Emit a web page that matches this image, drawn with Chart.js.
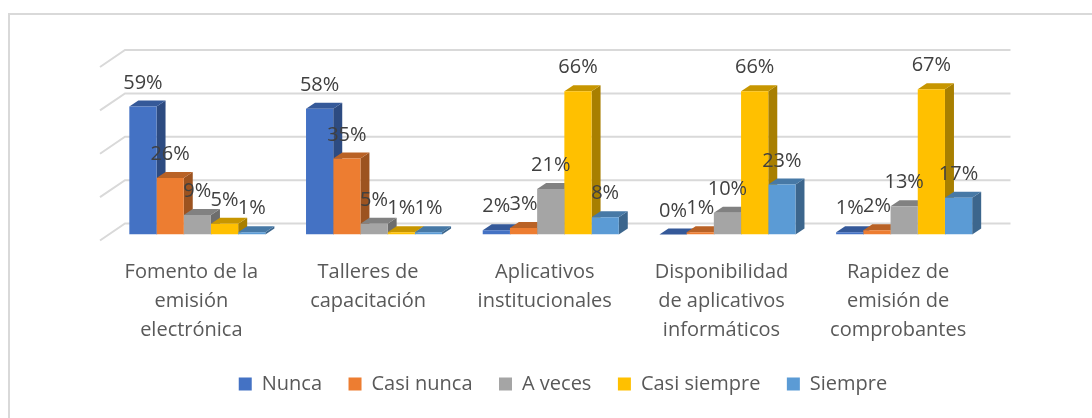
<!DOCTYPE html>
<html lang="es">
<head>
    <meta charset="UTF-8">
    <title>Uso de la facturación electrónica</title>
    <script src="https://cdn.jsdelivr.net/npm/chart.js"></script>
    <style>
        body { margin: 0; background: #fff; }
        #wrap { width: 1092px; height: 418px; }
    </style>
</head>
<body>
    <div id="wrap"><canvas id="grafico" width="1092" height="418"></canvas></div>

    <script>
        // Datos (porcentajes)
        const categorias = [
            ['Fomento de la', 'emisión', 'electrónica'],
            ['Talleres de', 'capacitación'],
            ['Aplicativos', 'institucionales'],
            ['Disponibilidad', 'de aplicativos', 'informáticos'],
            ['Rapidez de', 'emisión de', 'comprobantes']
        ];
        const nunca = [59, 58, 2, 0, 1];
        const casiNunca = [26, 35, 3, 1, 2];
        const aVeces = [9, 5, 21, 10, 13];
        const casiSiempre = [5, 1, 66, 66, 67];
        const siempre = [1, 1, 8, 23, 17];
        const ejeY = [0, 20, 40, 60, 80];

        const colores = ['#4472C4', '#ED7D31', '#A5A5A5', '#FFC000', '#5B9BD5'];
        const fuente = "'Open Sans', sans-serif";
        Chart.defaults.font.family = fuente;
        Chart.defaults.color = '#595959';

        // Oscurece un color hex
        function sombra(hex, f) {
            const n = parseInt(hex.slice(1), 16);
            const r = Math.round(((n >> 16) & 255) * f);
            const g = Math.round(((n >> 8) & 255) * f);
            const b = Math.round((n & 255) * f);
            return `rgb(${r},${g},${b})`;
        }

        const dx = 9, dy = 6;

        // Efecto 3D: paredes, caras laterales/superiores y etiquetas
        const barras3d = {
            id: 'barras3d',
            beforeDraw(chart) {
                const ctx = chart.ctx;
                ctx.save();
                ctx.strokeStyle = '#d9d9d9';
                ctx.lineWidth = 2;
                ctx.beginPath();
                ctx.moveTo(9, chart.height);
                ctx.lineTo(9, 14);
                ctx.lineTo(chart.width, 14);
                ctx.stroke();
                ctx.restore();
            },
            beforeDatasetsDraw(chart) {
                const { ctx, chartArea: a, scales: { y } } = chart;
                ctx.save();
                ctx.strokeStyle = '#d9d9d9';
                ctx.lineWidth = 2;
                ejeY.forEach(v => {
                    const py = y.getPixelForValue(v);
                    ctx.beginPath();
                    ctx.moveTo(a.left - 9, py + 6);
                    ctx.lineTo(a.left + 16, py - 11);
                    ctx.lineTo(a.right + 18, py - 11);
                    ctx.stroke();
                });
                chart.data.datasets.forEach((ds, i) => {
                    chart.getDatasetMeta(i).data.forEach(bar => {
                        const { x, y: top, base, width } = bar.getProps(['x', 'y', 'base', 'width'], true);
                        const l = x - width / 2, r = x + width / 2;
                        ctx.fillStyle = sombra(ds.backgroundColor, 0.66);
                        ctx.beginPath();
                        ctx.moveTo(r, top);
                        ctx.lineTo(r + dx, top - dy);
                        ctx.lineTo(r + dx, base - dy);
                        ctx.lineTo(r, base);
                        ctx.closePath();
                        ctx.fill();
                        ctx.fillStyle = sombra(ds.backgroundColor, 0.78);
                        ctx.beginPath();
                        ctx.moveTo(l, top);
                        ctx.lineTo(r, top);
                        ctx.lineTo(r + dx, top - dy);
                        ctx.lineTo(l + dx, top - dy);
                        ctx.closePath();
                        ctx.fill();
                    });
                });
                ctx.restore();
            },
            afterDatasetsDraw(chart) {
                const ctx = chart.ctx;
                ctx.save();
                ctx.font = '20px ' + fuente;
                ctx.fillStyle = '#404040';
                ctx.textAlign = 'center';
                ctx.textBaseline = 'alphabetic';
                chart.data.datasets.forEach((ds, i) => {
                    chart.getDatasetMeta(i).data.forEach((bar, j) => {
                        const { x, y: top } = bar.getProps(['x', 'y'], true);
                        ctx.fillText(ds.data[j] + '%', x, top - 18);
                    });
                });
                ctx.restore();
            }
        };

        const series = [
            ['Nunca', nunca],
            ['Casi nunca', casiNunca],
            ['A veces', aVeces],
            ['Casi siempre', casiSiempre],
            ['Siempre', siempre]
        ];

        new Chart(document.getElementById('grafico'), {
            type: 'bar',
            data: {
                labels: categorias,
                datasets: series.map((s, i) => ({
                    label: s[0],
                    data: s[1],
                    backgroundColor: colores[i],
                    borderWidth: 0,
                    categoryPercentage: 0.77,
                    barPercentage: 1.0
                }))
            },
            options: {
                responsive: false,
                animation: false,
                events: [],
                layout: { padding: { top: 61, left: 109, right: 75, bottom: 14 } },
                scales: {
                    x: {
                        grid: { display: false, drawTicks: false },
                        border: { display: false },
                        ticks: {
                            font: { size: 20, lineHeight: 1.45 },
                            color: '#595959',
                            padding: 23,
                            labelOffset: -6,
                            maxRotation: 0,
                            autoSkip: false
                        },
                        afterFit(scale) { scale.height = 113; }
                    },
                    y: {
                        position: 'right',
                        min: 0,
                        max: 80,
                        ticks: { display: false, stepSize: 20 },
                        grid: { display: false },
                        border: { display: false },
                        afterFit(scale) { scale.width = 24.5; }
                    }
                },
                plugins: {
                    legend: {
                        position: 'bottom',
                        labels: {
                            font: { size: 20 },
                            color: '#595959',
                            boxWidth: 13,
                            boxHeight: 13,
                            padding: 26.5
                        }
                    },
                    tooltip: { enabled: false }
                }
            },
            plugins: [barras3d]
        });
    </script>
</body>
</html>
